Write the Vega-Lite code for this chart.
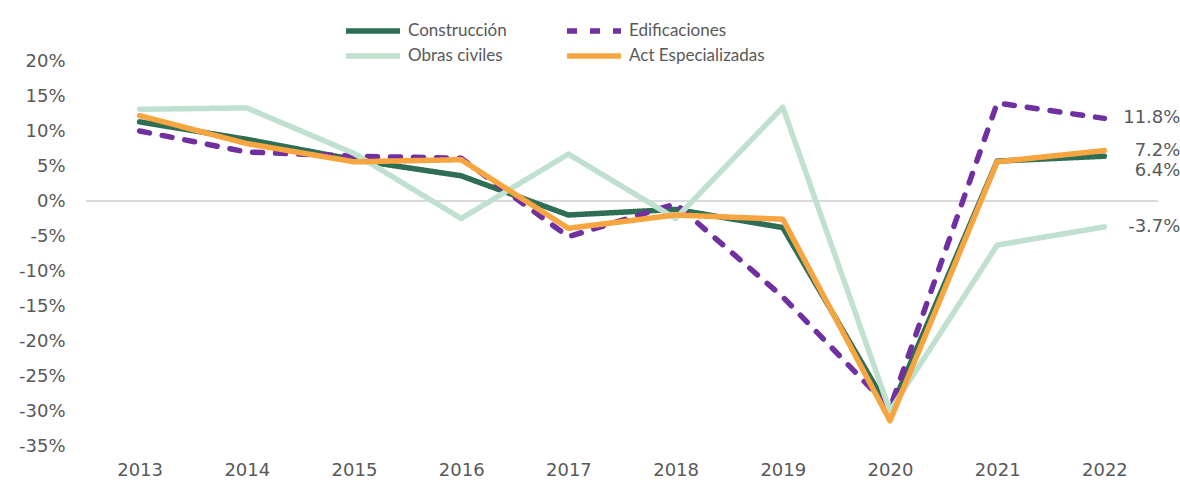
{
  "$schema": "https://vega.github.io/schema/vega-lite/v6.json",
  "autosize": "none",
  "width": 1072,
  "height": 385,
  "padding": {"left": 86, "top": 61, "right": 22, "bottom": 57},
  "background": "white",
  "config": {
    "view": {"stroke": null},
    "font": "DejaVu Sans",
    "axis": {"labelColor": "#595959", "labelFontSize": 18, "labelFont": "DejaVu Sans", "grid": false, "domain": false, "ticks": false},
    "legend": {"labelColor": "#595959", "labelFontSize": 17, "labelFont": "Lato"}
  },
  "data": {"values": [
    {"year": "2013", "serie": "Construcción", "v": 11.3},
    {"year": "2014", "serie": "Construcción", "v": 8.8},
    {"year": "2015", "serie": "Construcción", "v": 5.9},
    {"year": "2016", "serie": "Construcción", "v": 3.6},
    {"year": "2017", "serie": "Construcción", "v": -2.0},
    {"year": "2018", "serie": "Construcción", "v": -1.2},
    {"year": "2019", "serie": "Construcción", "v": -3.8},
    {"year": "2020", "serie": "Construcción", "v": -30.0},
    {"year": "2021", "serie": "Construcción", "v": 5.7},
    {"year": "2022", "serie": "Construcción", "v": 6.4},
    {"year": "2013", "serie": "Edificaciones", "v": 10.0},
    {"year": "2014", "serie": "Edificaciones", "v": 7.0},
    {"year": "2015", "serie": "Edificaciones", "v": 6.4},
    {"year": "2016", "serie": "Edificaciones", "v": 6.1},
    {"year": "2017", "serie": "Edificaciones", "v": -5.1},
    {"year": "2018", "serie": "Edificaciones", "v": -0.4},
    {"year": "2019", "serie": "Edificaciones", "v": -13.7},
    {"year": "2020", "serie": "Edificaciones", "v": -29.6},
    {"year": "2021", "serie": "Edificaciones", "v": 14.0},
    {"year": "2022", "serie": "Edificaciones", "v": 11.8},
    {"year": "2013", "serie": "Obras civiles", "v": 13.1},
    {"year": "2014", "serie": "Obras civiles", "v": 13.3},
    {"year": "2015", "serie": "Obras civiles", "v": 6.8},
    {"year": "2016", "serie": "Obras civiles", "v": -2.5},
    {"year": "2017", "serie": "Obras civiles", "v": 6.7},
    {"year": "2018", "serie": "Obras civiles", "v": -2.5},
    {"year": "2019", "serie": "Obras civiles", "v": 13.4},
    {"year": "2020", "serie": "Obras civiles", "v": -30.0},
    {"year": "2021", "serie": "Obras civiles", "v": -6.3},
    {"year": "2022", "serie": "Obras civiles", "v": -3.7},
    {"year": "2013", "serie": "Act Especializadas", "v": 12.2},
    {"year": "2014", "serie": "Act Especializadas", "v": 8.2},
    {"year": "2015", "serie": "Act Especializadas", "v": 5.6},
    {"year": "2016", "serie": "Act Especializadas", "v": 5.9},
    {"year": "2017", "serie": "Act Especializadas", "v": -3.9},
    {"year": "2018", "serie": "Act Especializadas", "v": -2.0},
    {"year": "2019", "serie": "Act Especializadas", "v": -2.6},
    {"year": "2020", "serie": "Act Especializadas", "v": -31.4},
    {"year": "2021", "serie": "Act Especializadas", "v": 5.6},
    {"year": "2022", "serie": "Act Especializadas", "v": 7.2}
  ]},
  "encoding": {
    "x": {"field": "year", "type": "ordinal", "scale": {"type": "point", "padding": 0.5}, "axis": {"title": null, "labelAngle": 0, "labelPadding": 15}},
    "y": {"field": "v", "type": "quantitative", "scale": {"domain": [-35, 20], "nice": false, "zero": false}, "axis": {"title": null, "values": [-35, -30, -25, -20, -15, -10, -5, 0, 5, 10, 15, 20], "labelExpr": "datum.value + '%'", "labelPadding": 21}}
  },
  "layer": [
    {
      "data": {"values": [{"z": 0}]},
      "mark": {"type": "rule", "color": "#d9d9d9", "strokeWidth": 2},
      "encoding": {"x": null, "y": {"field": "z", "type": "quantitative"}}
    },
    {
      "mark": {"type": "line", "strokeWidth": 5.5, "strokeCap": "round", "strokeJoin": "round"},
      "encoding": {
        "color": {"field": "serie", "type": "nominal", "sort": null,
          "scale": {"domain": ["Construcción", "Obras civiles", "Edificaciones", "Act Especializadas"], "range": ["#2e6e55", "#c0e0d0", "#7030a0", "#f7a541"]},
          "legend": {"title": null, "orient": "none", "legendX": 257, "legendY": -42, "columns": 2, "columnPadding": 57, "rowPadding": 1, "clipHeight": 24, "symbolType": "stroke", "symbolSize": 2916, "symbolStrokeWidth": 5.5, "labelOffset": 5, "padding": 0}},
        "strokeDash": {"field": "serie", "type": "nominal", "sort": null,
          "scale": {"domain": ["Construcción", "Obras civiles", "Edificaciones", "Act Especializadas"], "range": [[1, 0], [1, 0], [10, 13], [1, 0]]},
          "legend": {"title": null, "orient": "none", "legendX": 257, "legendY": -42, "columns": 2, "columnPadding": 57, "rowPadding": 1, "clipHeight": 24, "symbolType": "stroke", "symbolSize": 2916, "symbolStrokeWidth": 5.5, "labelOffset": 5, "padding": 0}},
        "order": {"field": "year"}
      }
    },
    {
      "transform": [{"filter": "datum.year == '2022' && datum.serie != 'Construcción'"}],
      "mark": {"type": "text", "align": "right", "baseline": "middle", "dx": 76, "fontSize": 18, "color": "#595959", "text": {"expr": "datum.v + '%'"}}
    },
    {
      "transform": [{"filter": "datum.year == '2022' && datum.serie == 'Construcción'"}],
      "mark": {"type": "text", "align": "right", "baseline": "middle", "dx": 76, "dy": 15, "fontSize": 18, "color": "#595959", "text": {"expr": "datum.v + '%'"}}
    }
  ]
}
